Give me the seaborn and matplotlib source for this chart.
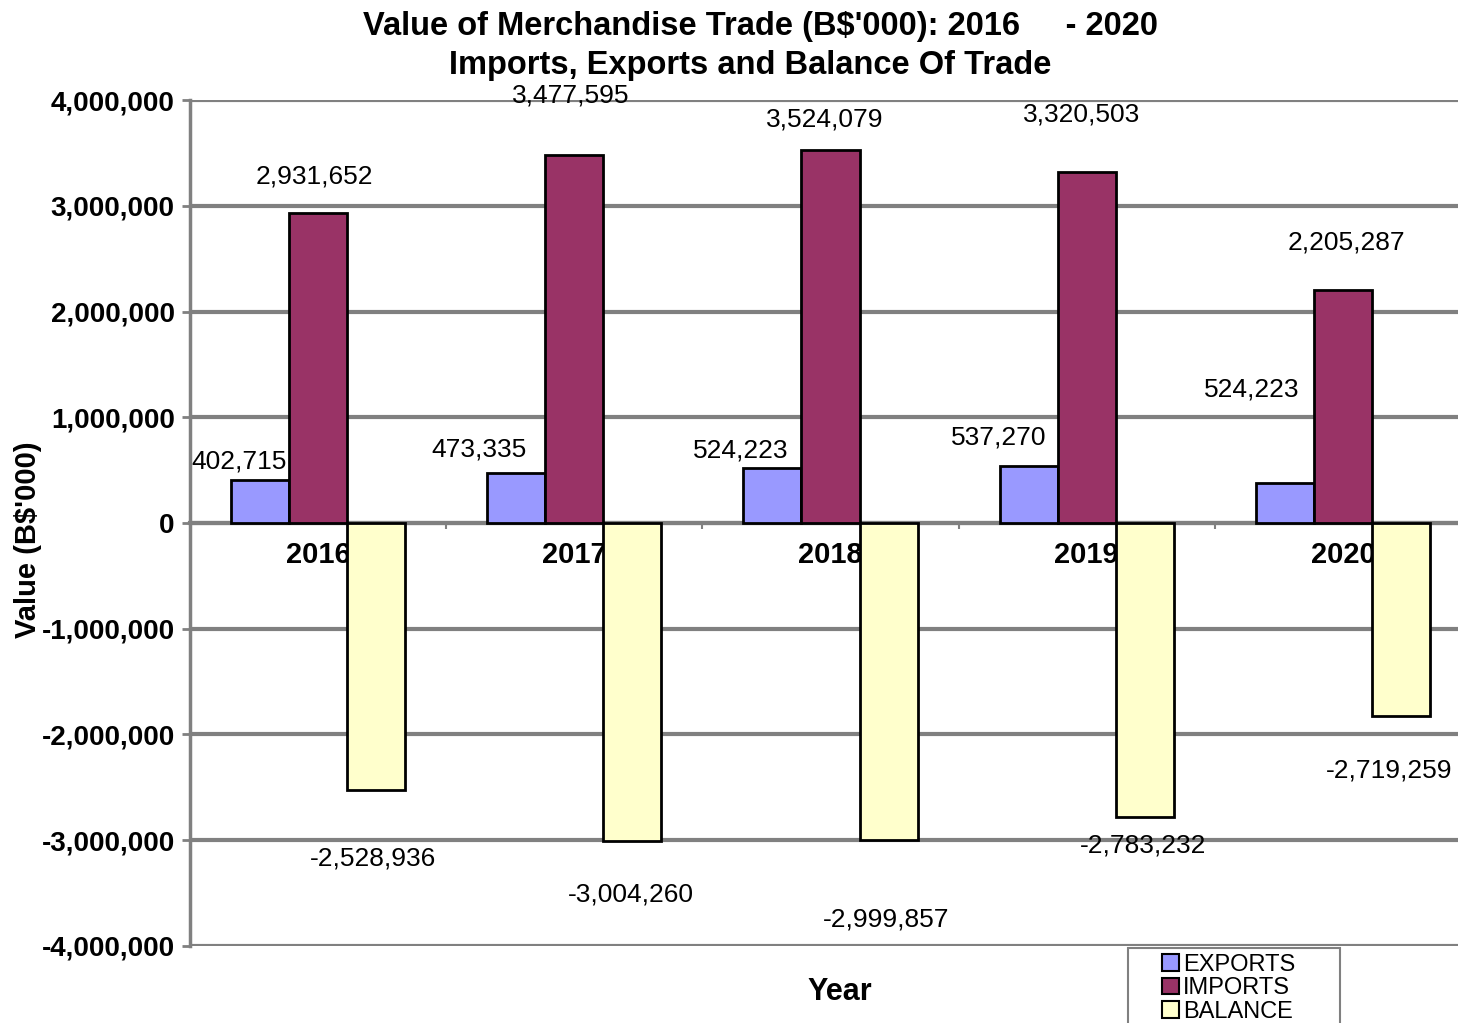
import matplotlib
matplotlib.use("Agg")
import matplotlib.pyplot as plt
from matplotlib.patches import Patch, Rectangle
from matplotlib.ticker import FuncFormatter, MultipleLocator, FixedLocator
import pandas as pd
import seaborn as sns

# --- DADOS ---
years = ["2016", "2017", "2018", "2019", "2020"]
series = ["EXPORTS", "IMPORTS", "BALANCE"]
exports = [402715, 473335, 524223, 537270, 380000]
imports = [2931652, 3477595, 3524079, 3320503, 2205287]
balance = [-2528936, -3004260, -2999857, -2783232, -1825287]

# rótulos como aparecem no gráfico original
exports_labels = ["402,715", "473,335", "524,223", "537,270", "524,223"]
imports_labels = ["2,931,652", "3,477,595", "3,524,079", "3,320,503", "2,205,287"]
balance_labels = ["-2,528,936", "-3,004,260", "-2,999,857", "-2,783,232", "-2,719,259"]

# --- ESTILO ---
colors = ["#9999FF", "#993366", "#FFFFCC"]
FONT = "Liberation Sans"
# deslocamento dos rótulos (pixels) em relação ao topo/fundo da barra
exp_off = [(-21, 19), (-37, 23), (-32, 17), (-30, 29), (-33, 93)]
imp_off = [(-4, 37), (-4, 60), (-6, 31), (-5, 57), (4, 47)]
bal_off = [(-3, -68), (-1, -54), (-2, -79), (-2, -28), (-12, -54)]

df = pd.DataFrame({
    "Year": years * 3,
    "Series": [s for s in series for _ in years],
    "Value": exports + imports + balance,
})

sns.set_style("white")
plt.rcParams["font.family"] = [FONT, "DejaVu Sans"]
plt.rcParams["text.color"] = "black"
plt.rcParams["xtick.color"] = "black"
plt.rcParams["ytick.color"] = "black"
plt.rcParams["axes.labelcolor"] = "black"

fig = plt.figure(figsize=(14.58, 10.23), dpi=100)
# a área do gráfico passa um pouco da borda direita, como no original
ax = fig.add_axes([0.1303, 0.0753, 0.8786, 0.8269])

sns.barplot(data=df, x="Year", y="Value", hue="Series", hue_order=series,
            palette=colors, saturation=1, width=0.68, edgecolor="black",
            linewidth=2, legend=False, ax=ax, zorder=3)

ax.set_ylim(-4000000, 4000000)
ax.set_xlim(-0.5, 4.5)
ax.yaxis.set_major_locator(MultipleLocator(1000000))
ax.yaxis.set_major_formatter(FuncFormatter(lambda v, p: f"{int(v):,}"))
ax.xaxis.set_minor_locator(FixedLocator([0.5, 1.5, 2.5, 3.5]))
ax.grid(axis="y", color="#808080", linewidth=3, zorder=0)
ax.grid(axis="x", visible=False)

for s in ["top", "right"]:
    ax.spines[s].set_visible(False)
ax.spines["left"].set_color("#808080")
ax.spines["left"].set_linewidth(2.5)
ax.spines["bottom"].set_position(("data", 0))
ax.spines["bottom"].set_color("#808080")
ax.spines["bottom"].set_linewidth(3)

ax.tick_params(axis="y", labelsize=20, length=6, width=2, color="#808080",
               labelcolor="black", pad=5, left=True)
for t in ax.get_yticklabels():
    t.set_fontweight("bold")
ax.tick_params(axis="x", which="major", labelsize=21, length=0, pad=13,
               labelcolor="black")
ax.tick_params(axis="x", which="minor", length=4, width=1.5, color="#808080",
               bottom=True)
for t in ax.get_xticklabels():
    t.set_fontweight("bold")
ax.set_xlabel("")
ax.set_ylabel("")

# rótulos de dados
all_labels = [exports_labels, imports_labels, balance_labels]
all_offsets = [exp_off, imp_off, bal_off]
for cont, labels, offs in zip(ax.containers, all_labels, all_offsets):
    for bar, lab, (dx, dy) in zip(cont, labels, offs):
        xc = bar.get_x() + bar.get_width() / 2
        yv = bar.get_y() + bar.get_height()
        ax.annotate(lab, (xc, yv), xytext=(dx, dy), textcoords="offset pixels",
                    ha="center", va="center", fontsize=19, annotation_clip=False,
                    zorder=5)

fig.text(0.5213, 0.974, "Value of Merchandise Trade (B$'000): 2016     - 2020",
         ha="center", va="center", fontsize=23.5, fontweight="bold")
fig.text(0.5144, 0.936, "Imports, Exports and Balance Of Trade",
         ha="center", va="center", fontsize=23.5, fontweight="bold")
fig.text(0.576, 0.03, "Year", ha="center", va="center", fontsize=22, fontweight="bold")
fig.text(0.0195, 0.472, "Value (B$'000)", ha="center", va="center", rotation=90,
         fontsize=21, fontweight="bold")

# legenda com moldura própria
fig.patches.append(Rectangle((0.7737, -0.01), 0.1454, 0.0833, transform=fig.transFigure,
                             facecolor="white", edgecolor="#808080", linewidth=1.5,
                             zorder=4))
handles = [Patch(facecolor=c, edgecolor="black", linewidth=1.5, label=s)
           for c, s in zip(colors, series)]
leg = fig.legend(handles=handles, loc="upper left",
                 frameon=False, fontsize=17,
                 handlelength=0.7, handleheight=0.7, handletextpad=0.2,
                 labelspacing=0.06, borderpad=0, borderaxespad=0)
leg.set_bbox_to_anchor((0.797, 0.0675), transform=fig.transFigure)
leg.set_zorder(5)

fig.savefig("out.png", dpi=100)
